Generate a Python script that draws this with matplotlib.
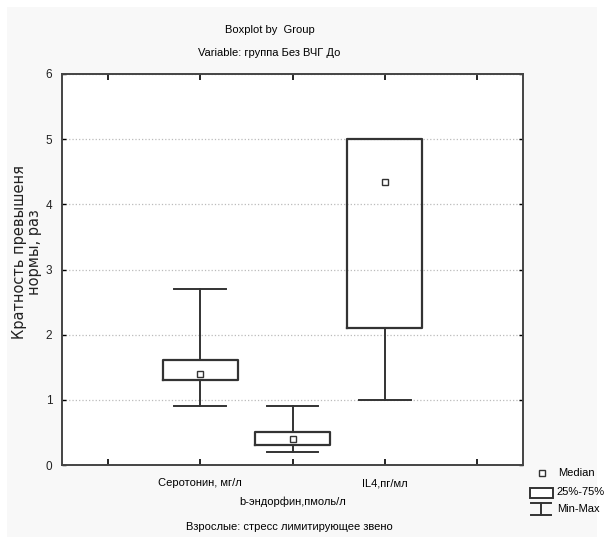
import numpy as np
import matplotlib
matplotlib.use("Agg")
import matplotlib.pyplot as plt
from matplotlib import font_manager
from matplotlib.patches import Rectangle

# data
groups = ["Серотонин, мг/л", "b-эндорфин,пмоль/л", "IL4,пг/мл"]
medians = [1.40, 0.40, 4.34]
q1 = [1.30, 0.30, 2.10]
q3 = [1.61, 0.50, 5.00]
mins = [0.90, 0.20, 1.00]
maxs = [2.70, 0.90, 5.00]

names = [f.name for f in font_manager.fontManager.ttflist]
narrow = "Liberation Sans Narrow" if "Liberation Sans Narrow" in names else "Liberation Sans"
plt.rcParams['font.family'] = [narrow, 'DejaVu Sans']

W, H = 604, 538
fig = plt.figure(figsize=(W / 100, H / 100), dpi=100)
fig.patch.set_facecolor('white')
fig.add_artist(Rectangle((7 / W, 1 - 537 / H), 590 / W, 530 / H, transform=fig.transFigure,
                         facecolor='#f8f8f8', edgecolor='none', zorder=-10))

ax = fig.add_axes([62 / W, 1 - 465 / H, (523 - 62) / W, (465 - 74) / H])
ax.set_facecolor('white')

dark = '#333333'
stats = []
for i in range(len(groups)):
    stats.append(dict(med=medians[i], q1=q1[i], q3=q3[i], whislo=mins[i], whishi=maxs[i],
                      mean=medians[i], fliers=[]))
positions = [1, 2, 3]
ax.bxp(stats, positions=positions, widths=0.81, capwidths=0.56, showmeans=True,
       showfliers=False,
       boxprops=dict(color=dark, linewidth=1.6),
       whiskerprops=dict(color=dark, linewidth=1.4),
       capprops=dict(color=dark, linewidth=1.4),
       medianprops=dict(visible=False),
       meanprops=dict(marker='s', markersize=5, markerfacecolor='white',
                      markeredgecolor=dark, markeredgewidth=1.0))

ax.set_xlim(-0.5, 4.5)
ax.set_ylim(0, 6)
ax.set_xticks([0, 1, 2, 3, 4])
ax.set_xticklabels([])
ax.set_yticks(range(0, 7))
ax.set_yticklabels([str(v) for v in range(0, 7)], fontsize=8.5, color='#222222')
ax.tick_params(axis='x', direction='in', length=4, width=1.2, color='black', top=True)
ax.tick_params(axis='y', direction='in', length=3, width=1.0, color='black', right=True, pad=7)
ax.grid(axis='y', linestyle=':', color='#bbbbbb', linewidth=0.9)
ax.set_axisbelow(True)
for sp in ax.spines.values():
    sp.set_color('#444444')
    sp.set_linewidth(1.4)

# category labels staggered in two rows
for i, (pos, name) in enumerate(zip(positions, groups)):
    yoff = 18 if i % 2 == 0 else 37
    ax.annotate(name, xy=(pos, 0), xycoords=('data', 'axes fraction'),
                xytext=(0, -yoff), textcoords='offset pixels',
                ha='center', va='center', fontsize=8)

fig.text(27 / W, 1 - 252 / H, "Кратность превышеня\nнормы, раз", rotation=90,
         ha='center', va='center', fontsize=10.5, family='DejaVu Sans',
         linespacing=1.05, color='#222222')

fig.text(270 / W, 1 - 30 / H, "Boxplot by  Group", ha='center', va='center', fontsize=8)
fig.text(269 / W, 1 - 53 / H, "Variable: группа Без ВЧГ До", ha='center', va='center', fontsize=8)
fig.text(289 / W, 1 - 527 / H, "Взрослые: стресс лимитирующее звено", ha='center', va='center',
         fontsize=8)

# legend
lg = fig.add_axes([525 / W, 1 - 525 / H, 79 / W, 60 / H])
lg.set_xlim(0, 79)
lg.set_ylim(60, 0)
lg.axis('off')
lg.plot([17], [8], marker='s', markersize=5, markerfacecolor='white',
        markeredgecolor=dark, markeredgewidth=1.0)
lg.text(33, 8, "Median", va='center', fontsize=8)
lg.add_patch(Rectangle((5, 23), 23, 10, facecolor='white', edgecolor=dark, linewidth=1.4))
lg.text(31, 27, "25%-75%", va='center', fontsize=8)
lg.plot([6, 26], [38, 38], color=dark, linewidth=1.4)
lg.plot([16, 16], [38, 50], color=dark, linewidth=1.4)
lg.plot([6, 26], [50, 50], color=dark, linewidth=1.4)
lg.text(32, 44, "Min-Max", va='center', fontsize=8)

fig.savefig("out.png", dpi=100, facecolor='white')
